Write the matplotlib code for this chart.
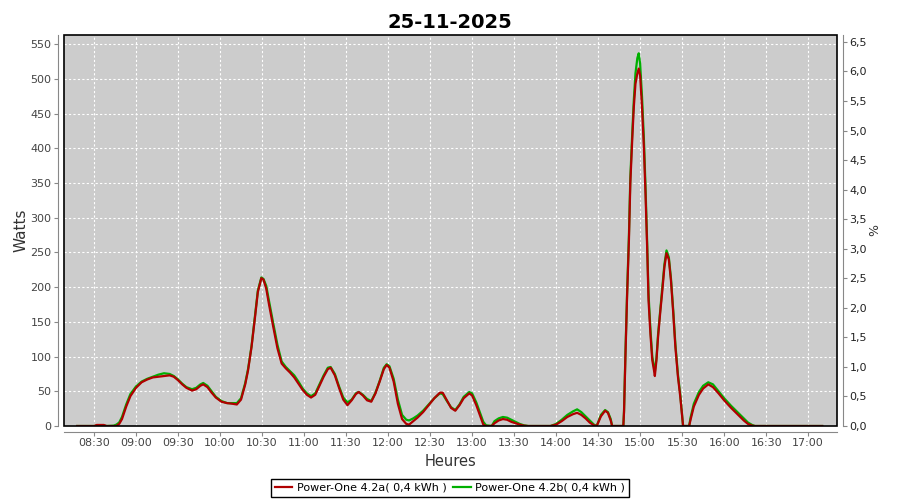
import matplotlib.pyplot as plt
from matplotlib.patches import Rectangle
from matplotlib.ticker import FuncFormatter, MultipleLocator


# Readings of the two inverters (time of day, watts)
times = [
    "08:18", "08:25", "08:30", "08:32", "08:37", "08:39", "08:44", "08:46",
    "08:48", "08:50", "08:53", "08:56", "09:00", "09:04", "09:08", "09:12",
    "09:16", "09:20", "09:24", "09:27", "09:30", "09:33", "09:36", "09:40",
    "09:43", "09:46", "09:48", "09:51", "09:54", "09:57", "10:01", "10:05",
    "10:09", "10:12", "10:15", "10:18", "10:20", "10:22:30", "10:25", "10:27",
    "10:29:30", "10:31", "10:33", "10:35", "10:38", "10:41", "10:44", "10:47",
    "10:50", "10:53", "10:56", "10:59", "11:02", "11:05", "11:08", "11:11",
    "11:14", "11:17", "11:19", "11:22", "11:25", "11:28", "11:31", "11:34",
    "11:37", "11:39", "11:42", "11:45", "11:48", "11:51", "11:54", "11:57",
    "11:59", "12:01", "12:04", "12:07", "12:10", "12:13", "12:15", "12:18",
    "12:21", "12:25", "12:29", "12:33", "12:37", "12:39", "12:42", "12:45",
    "12:48", "12:51", "12:54", "12:58", "13:00", "13:03", "13:06", "13:08",
    "13:10", "13:14", "13:16", "13:19", "13:22", "13:25", "13:28", "13:31",
    "13:34", "13:37", "13:40", "13:56", "14:00", "14:04", "14:08", "14:12",
    "14:15", "14:18", "14:21", "14:24", "14:27", "14:29", "14:32", "14:35",
    "14:37", "14:39", "14:40", "14:48", "14:48:30", "14:49:30", "14:50:40", "14:52",
    "14:53", "14:54:20", "14:55:30", "14:56:40", "14:58", "14:59", "15:00", "15:01:20",
    "15:02:40", "15:03:50", "15:05", "15:06", "15:07:20", "15:08:40", "15:09:50", "15:10:30",
    "15:11:40", "15:12:50", "15:14:30", "15:15:40", "15:17:20", "15:18:50", "15:20:30", "15:22",
    "15:23:40", "15:25:10", "15:27", "15:28:40", "15:30", "15:30:40", "15:35", "15:36",
    "15:38:20", "15:42", "15:45", "15:48:40", "15:52", "15:56", "16:00", "16:05",
    "16:10", "16:14", "16:17", "16:20", "16:22", "17:10",
]

power_a = [
    0, 0, 0, 1.5, 1.5, 0, 0, 0,
    3, 10, 28, 43, 55, 63, 67, 70,
    71, 72, 73, 71, 66, 60, 55, 51,
    53, 58, 60, 56, 48, 41, 35, 33,
    32, 31, 38, 60, 80, 114, 157, 193,
    213, 211, 198, 175, 143, 112, 90, 83,
    77, 70, 61, 52, 45, 41, 45, 58,
    71, 82, 84, 73, 55, 38, 30, 37,
    46, 49, 44, 37, 35, 47, 64, 82,
    88, 84, 64, 32, 10, 3, 2, 7,
    12, 20, 30, 40, 48, 48, 37, 26,
    22, 30, 40, 47, 44, 30, 13, 2,
    0, 0, 4, 8, 10, 9, 6, 4,
    2, 0.5, 0, 0, 2, 7, 13, 17,
    19, 16, 11, 5, 1, 0, 14, 22,
    19, 8, 0, 0, 20, 100, 186, 268,
    350, 412, 460, 493, 508, 515, 505, 460,
    402, 335, 258, 181, 133, 95, 81, 72,
    95, 129, 167, 191, 229, 249, 240, 210,
    162, 114, 71, 42, 13, 0, 0, 9,
    28, 45, 54, 60, 56, 47, 37, 26,
    16, 8, 3, 0.5, 0, 0,
]

power_b = [
    0, 0, 0, 0.5, 0.5, 0, 0.5, 2,
    5, 13, 31, 46, 57, 64, 68, 71,
    74, 76, 75, 72, 67, 61, 56, 53,
    55, 60, 62, 58, 50, 42, 36, 33,
    33, 33, 40, 62, 82, 115, 160, 195,
    214, 212, 202, 180, 148, 117, 93, 85,
    79, 73, 64, 54, 47, 43, 47, 60,
    73, 84, 85, 75, 57, 41, 34, 38,
    47, 49, 45, 39, 36, 48, 65, 84,
    89, 86, 68, 38, 16, 9, 8, 11,
    15, 22, 31, 40, 47, 46, 36, 27,
    23, 31, 42, 49, 47, 34, 17, 6,
    1, 0, 7, 11, 13, 12, 9, 6,
    3, 1, 0, 0, 3, 9, 16, 21,
    24, 20, 14, 8, 2, 0, 16, 23,
    20, 10, 0, 0, 22, 105, 190, 275,
    358, 420, 470, 508, 530, 537, 522, 475,
    415, 345, 265, 190, 140, 100, 86, 78,
    98, 133, 170, 195, 233, 253, 243, 213,
    166, 118, 74, 45, 16, 0, 0, 12,
    32, 49, 58, 63, 60, 50, 40, 29,
    19, 11, 5, 1.5, 0, 0,
]

tick_times = [
    "08:30", "09:00", "09:30", "10:00", "10:30", "11:00", "11:30", "12:00", "12:30",
    "13:00", "13:30", "14:00", "14:30", "15:00", "15:30", "16:00", "16:30", "17:00",
]

legend_a = "Power-One 4.2a( 0,4 kWh )"
legend_b = "Power-One 4.2b( 0,4 kWh )"


def to_minutes(t):
    parts = [float(p) for p in t.split(":")]
    minutes = parts[0] * 60 + parts[1]
    if len(parts) == 3:
        minutes += parts[2] / 60
    return minutes


x = [to_minutes(t) for t in times]
ticks = [to_minutes(t) for t in tick_times]

fig = plt.figure(figsize=(9, 5), dpi=100)
ax = fig.add_axes([64 / 900, 74 / 500, 773 / 900, 391 / 500])
ax.set_facecolor("#cccccc")

line_b, = ax.plot(x, power_b, color="#00b000", linewidth=1.6, zorder=3)
line_a, = ax.plot(x, power_a, color="#b00000", linewidth=1.6, zorder=4)

ax.set_xlim(to_minutes("08:08:35"), to_minutes("17:20:35"))
ax.set_ylim(0, 563.4)
ax.set_xticks(ticks)
ax.set_xticklabels(tick_times)
ax.yaxis.set_major_locator(MultipleLocator(50))

ax.grid(color="white", linestyle=(0, (2, 2)), linewidth=0.8)
ax.set_axisbelow(True)

for side in ["top", "right"]:
    ax.spines[side].set_visible(False)
for side in ["left", "bottom"]:
    ax.spines[side].set_position(("outward", 4))
    ax.spines[side].set_color("#888888")
ax.add_patch(Rectangle((0, 0), 1, 1, transform=ax.transAxes, fill=False,
                       edgecolor="black", linewidth=1.2, clip_on=False, zorder=5))

ax.tick_params(length=3, width=0.8, color="#888888", labelsize=8,
               labelcolor="#444444", pad=2)
ax.set_xlabel("Heures", fontsize=10.5, color="#333333", labelpad=4)
ax.set_ylabel("Watts", fontsize=11, color="#333333", labelpad=1)

ax2 = ax.twinx()
ax2.set_ylim(0, 6.616)
ax2.yaxis.set_major_locator(MultipleLocator(0.5))
ax2.yaxis.set_major_formatter(FuncFormatter(lambda v, pos: f"{v:.1f}".replace(".", ",")))
for side in ["top", "left", "bottom"]:
    ax2.spines[side].set_visible(False)
ax2.spines["right"].set_position(("outward", 4))
ax2.spines["right"].set_color("#888888")
ax2.tick_params(length=3, width=0.8, color="#888888", labelsize=8,
                labelcolor="#222222", pad=2)
ax2.set_ylabel("%", fontsize=9, color="#333333", labelpad=1)

fig.suptitle("25-11-2025", x=0.5, y=0.975, fontsize=14, fontweight="bold")

leg = fig.legend([line_a, line_b], [legend_a, legend_b], loc="lower center",
                 bbox_to_anchor=(0.5, 0.0), ncol=2, fontsize=8, frameon=True,
                 fancybox=False, edgecolor="black", framealpha=1,
                 handlelength=1.6, handletextpad=0.4, columnspacing=0.6,
                 borderpad=0.35, borderaxespad=0.3)
leg.get_frame().set_linewidth(1)

plt.savefig("out.png", dpi=100)
